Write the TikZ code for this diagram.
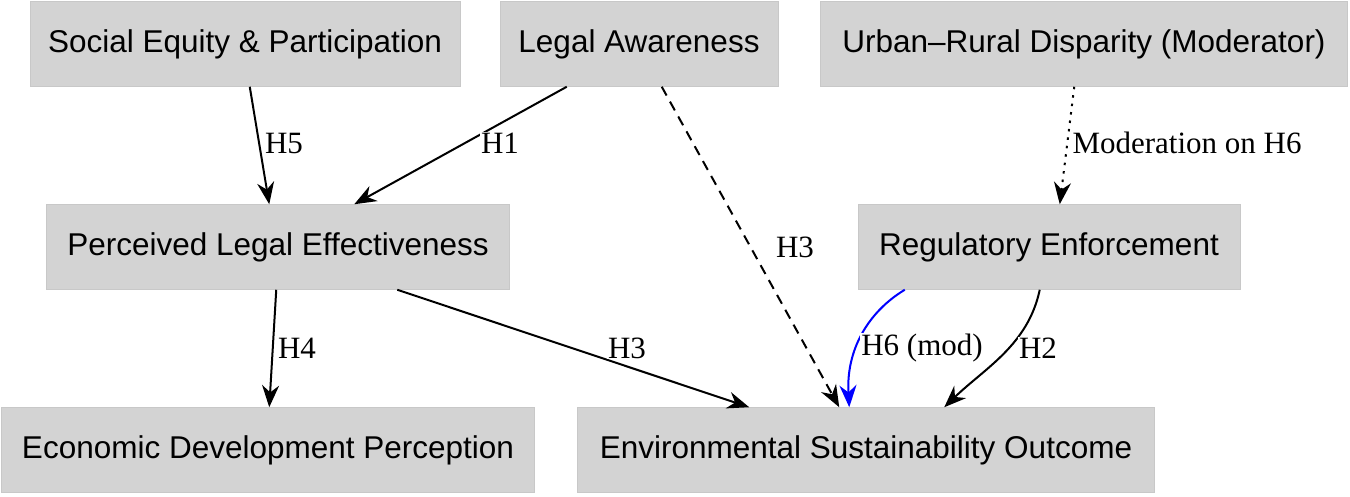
\documentclass[tikz,border=0pt]{standalone}
\usepackage{fontspec}
\setmainfont{Liberation Serif}
\newfontfamily\boxfont{Liberation Sans}
\usetikzlibrary{arrows.meta,calc}
\begin{document}
\begin{tikzpicture}[x=1pt,y=-1pt,
 box/.style={fill={rgb,255:red,211;green,211;blue,211},draw={rgb,255:red,200;green,200;blue,200},line width=0.5pt,font=\boxfont\fontsize{31.5}{36}\selectfont,inner sep=0},
 e/.style={line width=2pt,-{Stealth[length=22pt,width=17pt]}},
 lab/.style={font=\fontsize{31}{36}\selectfont,fill=white,inner sep=1pt}]
\useasboundingbox (0,0) rectangle (1350,496);
\node[box,minimum width=430,minimum height=85] (soc) at (245,44) {Social Equity \& Participation};
\node[box,minimum width=278,minimum height=85] (la) at (639,44) {Legal Awareness};
\node[box,minimum width=527,minimum height=85] (ur) at (1084,44) {Urban–Rural Disparity (Moderator)};
\node[box,minimum width=463,minimum height=85] (ple) at (278,247) {Perceived Legal Effectiveness};
\node[box,minimum width=382,minimum height=85] (re) at (1049,247) {Regulatory Enforcement};
\node[box,minimum width=533,minimum height=85] (ed) at (268,450) {Economic Development Perception};
\node[box,minimum width=577,minimum height=85] (es) at (866,450) {Environmental Sustainability Outcome};
\draw[e] ($(soc.south west)+(220,0)$) -- ($(ple.north west)+(223,0)$);
\node[lab] (h5) at (284,143) {H5};
\draw[e] ($(la.south west)+(67,0)$) -- ($(ple.north west)+(308,0)$);
\node[lab] (h1) at (500,143) {H1};
\draw[e,dash pattern=on 10pt off 7pt] ($(la.south west)+(162,0)$) -- ($(es.north west)+(262,0)$);
\node[lab] (h3a) at (795,247) {H3};
\draw[e,dash pattern=on 2.5pt off 6pt] ($(ur.south west)+(254,0)$) -- ($(re.north west)+(202,0)$);
\node[lab] (mod) at (1187,143) {Moderation on H6};
\draw[e] ($(ple.south west)+(230,0)$) -- ($(ed.north west)+(268,0)$);
\node[lab] (h4) at (297,348) {H4};
\draw[e] ($(ple.south west)+(351,0)$) -- ($(es.north west)+(172,0)$);
\node[lab] (h3b) at (627,348) {H3};
\draw[e,blue] ($(re.south west)+(47,0)$) .. controls (868,312) and (846,350) .. ($(es.north west)+(272,0)$);
\node[lab] (h6) at (922,348) {H6 (mod)};
\draw[e] ($(re.south west)+(182,0)$) .. controls (1028,345) and (985,368) .. ($(es.north west)+(367,0)$);
\node[lab] (h2) at (1038,348) {H2};
\end{tikzpicture}
\end{document}
